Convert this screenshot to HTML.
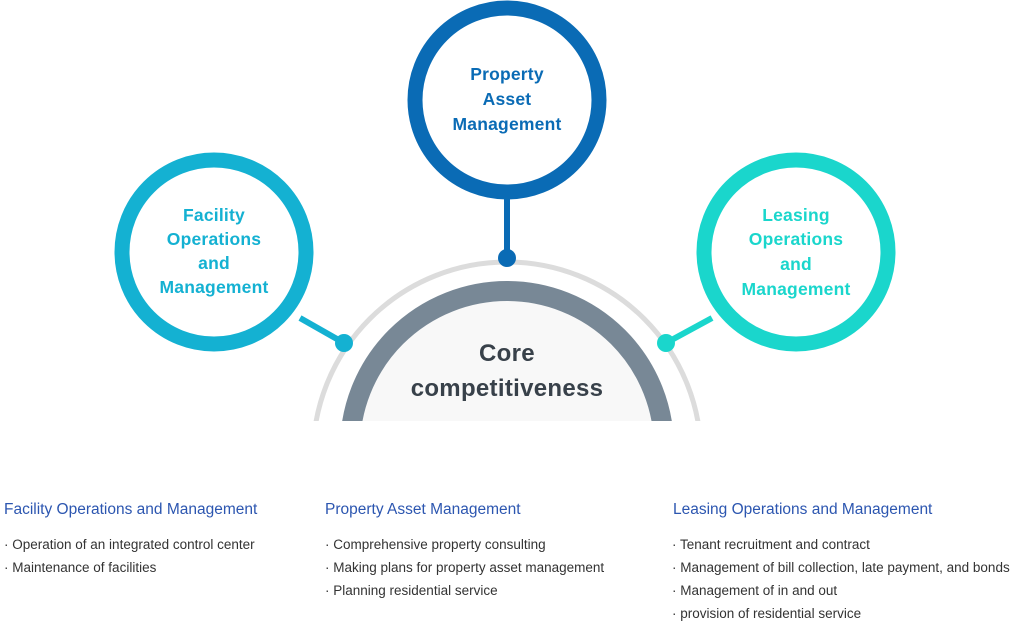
<!DOCTYPE html>
<html><head><meta charset="utf-8"><style>
body{margin:0;background:#fff;width:1013px;height:621px;overflow:hidden;font-family:"Liberation Sans",sans-serif}
svg{position:absolute;left:0;top:0}
.h{fill:#2c56b0;font-size:15.5px;letter-spacing:0}
.i{fill:#333;font-size:13.5px;letter-spacing:0}
.c{font-size:17.5px;font-weight:bold;text-anchor:middle;letter-spacing:0.2px}
</style></head><body>
<svg width="1013" height="621" viewBox="0 0 1013 621">
<defs><clipPath id="cl"><rect x="0" y="0" width="1013" height="421"/></clipPath></defs>
<g clip-path="url(#cl)">
<circle cx="507" cy="456" r="194" fill="none" stroke="#dcdcdc" stroke-width="5"/>
<circle cx="507" cy="448" r="157" fill="#f8f8f8" stroke="#788896" stroke-width="20"/>
</g>
<text x="507" y="361" text-anchor="middle" fill="#38414a" font-size="24" font-weight="bold" letter-spacing="0.3">Core</text>
<text x="507" y="396" text-anchor="middle" fill="#38414a" font-size="24" font-weight="bold" letter-spacing="0.3">competitiveness</text>
<!-- top -->
<line x1="507" y1="190" x2="507" y2="258" stroke="#0a6bb5" stroke-width="6"/>
<path d="M490 190 Q507 205 524 190 Z" fill="#0a6bb5"/>
<circle cx="507" cy="258" r="9" fill="#0a6bb5"/>
<circle cx="507" cy="100" r="92" fill="#fff" stroke="#0a6bb5" stroke-width="15"/>
<g class="c" fill="#0a6bb5"><text x="507" y="80">Property</text><text x="507" y="105">Asset</text><text x="507" y="130">Management</text></g>
<!-- left -->
<line x1="300" y1="318" x2="344" y2="343" stroke="#14b1d2" stroke-width="6"/>
<circle cx="344" cy="343" r="9" fill="#14b1d2"/>
<circle cx="214" cy="252" r="92" fill="#fff" stroke="#14b1d2" stroke-width="15"/>
<g class="c" fill="#14b1d2"><text x="214" y="221">Facility</text><text x="214" y="245">Operations</text><text x="214" y="269">and</text><text x="214" y="293">Management</text></g>
<!-- right -->
<line x1="712" y1="318" x2="666" y2="343" stroke="#1ad6cc" stroke-width="6"/>
<circle cx="666" cy="343" r="9" fill="#1ad6cc"/>
<circle cx="796" cy="252" r="92" fill="#fff" stroke="#1ad6cc" stroke-width="15"/>
<g class="c" fill="#1ad6cc"><text x="796" y="221">Leasing</text><text x="796" y="245">Operations</text><text x="796" y="270">and</text><text x="796" y="295">Management</text></g>
<!-- bottom text -->
<text class="h" x="4" y="514">Facility Operations and Management</text>
<text class="i" x="4" y="549">· Operation of an integrated control center</text>
<text class="i" x="4" y="572">· Maintenance of facilities</text>
<text class="h" x="325" y="514">Property Asset Management</text>
<text class="i" x="325" y="549">· Comprehensive property consulting</text>
<text class="i" x="325" y="572">· Making plans for property asset management</text>
<text class="i" x="325" y="595">· Planning residential service</text>
<text class="h" x="673" y="514">Leasing Operations and Management</text>
<text class="i" x="672" y="549">· Tenant recruitment and contract</text>
<text class="i" x="672" y="572">· Management of bill collection, late payment, and  bonds</text>
<text class="i" x="672" y="595">· Management of in and out</text>
<text class="i" x="672" y="618">· provision of residential service</text>
</svg>
</body></html>
